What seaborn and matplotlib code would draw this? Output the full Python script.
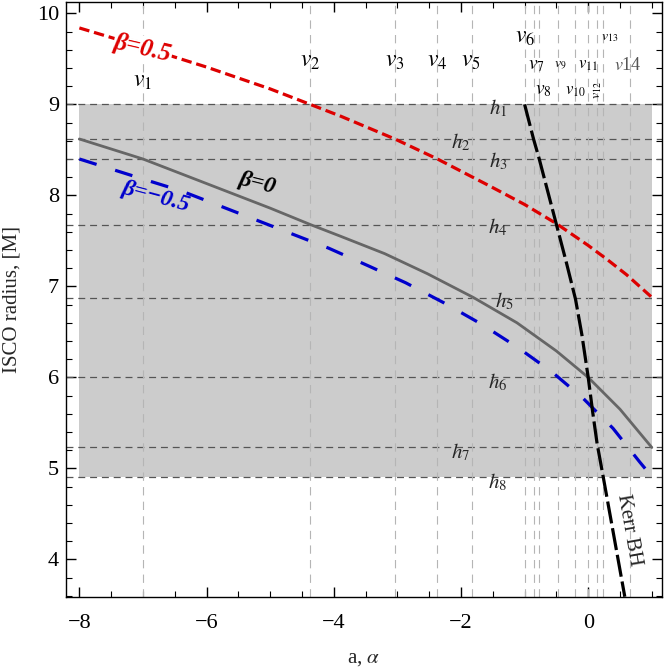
import numpy as np
import pandas as pd
import seaborn as sns
import matplotlib.pyplot as plt
from matplotlib.ticker import MultipleLocator

# ISCO radius vs a / alpha

beta_p05_x = [-8.0, -7.0, -6.0, -5.0, -4.37, -3.89, -3.04, -2.37, -1.54, -1.0, -0.5, 0.0, 0.29, 0.6, 1.0]
beta_p05_y = [9.84, 9.63, 9.41, 9.17, 9.0, 8.87, 8.62, 8.40, 8.10, 7.90, 7.69, 7.45, 7.30, 7.13, 6.88]

beta_0_x = [-8.0, -7.0, -6.0, -5.0, -4.37, -3.89, -3.2, -2.53, -1.81, -1.12, -0.5, 0.0, 0.5, 1.0]
beta_0_y = [8.62, 8.40, 8.13, 7.86, 7.68, 7.55, 7.36, 7.14, 6.88, 6.60, 6.29, 6.0, 5.65, 5.23]

beta_m05_x = [-8.0, -7.0, -6.4, -5.0, -4.08, -3.47, -2.87, -2.27, -1.69, -1.11, -0.57, -0.08, 0.39, 0.81, 1.0]
beta_m05_y = [8.40, 8.18, 8.05, 7.67, 7.42, 7.23, 7.04, 6.82, 6.59, 6.33, 6.06, 5.77, 5.44, 5.07, 4.91]

kerr_x = [-1.0, -0.86, -0.77, -0.5, -0.35, -0.2, -0.1, 0.0, 0.07, 0.14, 0.235, 0.4, 0.575]
kerr_y = [9.0, 8.62, 8.40, 7.68, 7.28, 6.86, 6.47, 6.0, 5.62, 5.27, 4.91, 4.27, 3.59]

h_vals = [9.0, 8.617, 8.40, 7.68, 6.878, 6.0, 5.232, 4.909]
v_vals = [-7.0, -4.37, -3.04, -2.37, -1.82, -1.0, -0.85, -0.77, -0.47, -0.21, 0.0, 0.14, 0.235, 0.655]

h_labels = [r'$h_1$', r'$h_2$', r'$h_3$', r'$h_4$', r'$h_5$', r'$h_6$', r'$h_7$', r'$h_8$']
h_lab_x = [-1.42, -2.01, -1.42, -1.42, -1.31, -1.42, -2.01, -1.42]
h_lab_y = [8.96, 8.58, 8.37, 7.65, 6.83, 5.95, 5.18, 4.85]

v_labels = [r'$v_1$', r'$v_2$', r'$v_3$', r'$v_4$', r'$v_5$', r'$v_6$', r'$v_7$', r'$v_8$',
            r'$v_9$', r'$v_{10}$', r'$v_{11}$', r'$v_{12}$', r'$v_{13}$', r'$v$14']
v_lab_x = [-7.0, -4.37, -3.04, -2.37, -1.84, -0.99, -0.82, -0.71, -0.44, -0.2, 0.0, 0.15, 0.34, 0.62]
v_lab_y = [9.25, 9.47, 9.47, 9.47, 9.47, 9.73, 9.43, 9.15, 9.43, 9.15, 9.43, 9.16, 9.73, 9.43]
v_lab_size = [17, 17, 17, 17, 17, 17, 14, 14, 10, 12, 12, 10, 10, 13]

shade_x = [-8.0, 1.0]
shade_lo, shade_hi = 4.909, 9.0

sns.set_style("ticks")
plt.rcParams['font.family'] = ['Liberation Serif', 'DejaVu Serif']
plt.rcParams['mathtext.fontset'] = 'stix'
plt.rcParams['lines.scale_dashes'] = False

fig = plt.figure(figsize=(6.64, 6.72), dpi=100)
ax = fig.add_axes([0.0994, 0.1116, 0.8976, 0.8854])

ax.fill_between(shade_x, shade_lo, shade_hi, color='#cccccc', lw=0, zorder=0)

for h in h_vals:
    ax.axhline(h, color='#555555', lw=0.9, ls=(0, (5, 3.5)), zorder=1)
for v in v_vals:
    ax.axvline(v, color='#b5b5b5', lw=0.8, ls=(0, (6, 4.5)), zorder=1)

sns.lineplot(x=beta_0_x, y=beta_0_y, ax=ax, color='#666666', lw=2.0, sort=False, zorder=3)
sns.lineplot(x=beta_m05_x, y=beta_m05_y, ax=ax, color='#0000cc', lw=2.3,
             linestyle=(0, (13, 14)), sort=False, zorder=3)
sns.lineplot(x=beta_p05_x, y=beta_p05_y, ax=ax, color='#dd0000', lw=2.3,
             linestyle=(0, (7.5, 3.5)), sort=False, zorder=3)
sns.lineplot(x=kerr_x, y=kerr_y, ax=ax, color='black', lw=2.3,
             linestyle=(0, (16, 3.5)), sort=False, zorder=4)

for lab, x, y in zip(h_labels, h_lab_x, h_lab_y):
    ax.text(x, y, lab, fontsize=15, ha='center', va='center', zorder=5)
for i, (lab, x, y, s) in enumerate(zip(v_labels, v_lab_x, v_lab_y, v_lab_size)):
    rot = 90 if i == 11 else 0
    col = '#555555' if i == 13 else 'black'
    ax.text(x, y, lab, fontsize=s, ha='center', va='center', rotation=rot, color=col, zorder=5)

bold = dict(fontweight='bold', fontstyle='italic', ha='center', va='center', zorder=5)
ax.text(-7.0, 9.62, 'β=0.5', color='#dd0000', fontsize=18, rotation=-13,
        bbox=dict(fc='white', ec='none', pad=0.5), **bold)
ax.text(-5.2, 8.13, 'β=0', color='black', fontsize=17, rotation=-14, **bold)
ax.text(-6.8, 7.98, 'β=−0.5', color='#0000cc', fontsize=17, rotation=-15, **bold)
ax.text(0.63, 4.32, 'Kerr BH', fontsize=15, rotation=-80, ha='center', va='center', zorder=5)

ax.set_xlim(-8.21, 1.16)
ax.set_ylim(3.587, 10.125)
ax.xaxis.set_major_locator(MultipleLocator(2))
ax.xaxis.set_minor_locator(MultipleLocator(0.5))
ax.yaxis.set_major_locator(MultipleLocator(1))
ax.yaxis.set_minor_locator(MultipleLocator(0.2))
ax.tick_params(which='both', direction='in', top=True, right=True, colors='black')
ax.tick_params(which='major', length=7, width=1)
ax.tick_params(which='minor', length=4, width=0.8)
ax.tick_params(axis='x', which='major', pad=12, labelsize=16)
ax.tick_params(axis='y', which='major', pad=5, labelsize=16)
for sp in ax.spines.values():
    sp.set_linewidth(1.0)
    sp.set_color('black')

ax.set_xlabel(r'a, $\alpha$', fontsize=15)
ax.set_ylabel('ISCO radius, [M]', fontsize=15)
ax.xaxis.set_label_coords(0.5, -0.088)
ax.yaxis.set_label_coords(-0.075, 0.5)

fig.savefig('out.png', dpi=100)
